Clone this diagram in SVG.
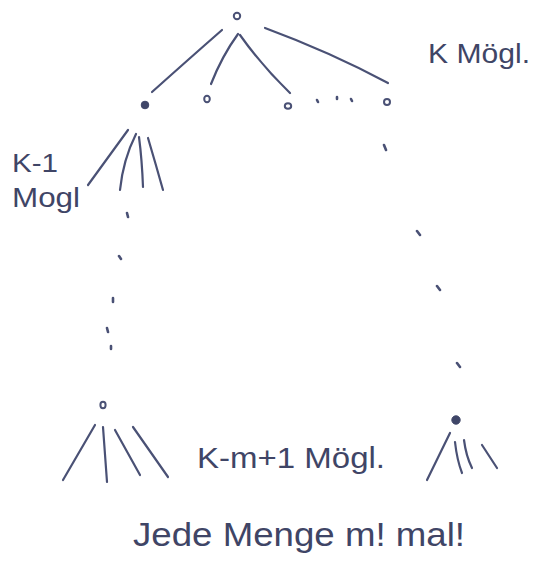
<svg xmlns="http://www.w3.org/2000/svg" width="542" height="585" viewBox="0 0 542 585">
<style>
.pen{fill:none;stroke:#4a5175;stroke-width:2.2;stroke-linecap:round;stroke-linejoin:round}
.dot{fill:none;stroke:#4a5175;stroke-width:2.6;stroke-linecap:round}
.open{fill:#ffffff;stroke:#4a5175;stroke-width:2}
.fill{fill:#3f4668;stroke:#3f4668;stroke-width:1}
.lbl{font-family:"Liberation Sans","DejaVu Sans",sans-serif;fill:#3f4566}
</style>
<rect width="542" height="585" fill="#ffffff"/>
<g id="connectors">
<path class="pen" d="M222,30 Q190,58 152,92"/>
<path class="pen" d="M238,34 Q222,56 211,84"/>
<path class="pen" d="M240,35 Q262,66 290,93"/>
<path class="pen" d="M265,28 Q330,52 388,83"/>
<path class="pen" d="M128,130 L88,185"/>
<path class="pen" d="M136,134 Q123,160 120,190"/>
<path class="pen" d="M139,137 Q142,160 143,187"/>
<path class="pen" d="M148,138 Q156,165 163,190"/>
<path class="pen" d="M95,425 L63,480"/>
<path class="pen" d="M103,427 L107,482"/>
<path class="pen" d="M115,430 L140,475"/>
<path class="pen" d="M133,427 L168,477"/>
<path class="pen" d="M450,433 L427,480"/>
<path class="pen" d="M455,442 Q457,460 462,473"/>
<path class="pen" d="M464,440 Q466,456 472,468"/>
<path class="pen" d="M482,445 L497,468"/>
<path class="dot" d="M317,100 L318,102 M337,97 L337,99 M351,99 L352,101"/>
<path class="dot" d="M127,213 L128,217 M119,256 L121,259 M113,298 L113,302 M107,328 L108,332 M111,346 L111,349"/>
<path class="dot" d="M384,145 L386,150 M417,231 L420,235 M437,286 L440,290 M457,363 L460,367"/>
</g>
<g id="root"><circle class="open" cx="237" cy="16" r="3.2"/></g>
<g id="n1"><circle class="fill" cx="145" cy="105" r="3.8"/></g>
<g id="n2"><ellipse class="open" cx="207" cy="99" rx="2.8" ry="3.3"/></g>
<g id="n3"><ellipse class="open" cx="288" cy="106" rx="3.2" ry="2.8"/></g>
<g id="n4"><circle class="open" cx="387" cy="102" r="3"/></g>
<g id="deepLeft"><ellipse class="open" cx="103" cy="405" rx="2.6" ry="3.2"/></g>
<g id="deepRight"><circle class="fill" cx="456" cy="420" r="4.2"/></g>
<g id="labels">
<text class="lbl" x="428" y="63" font-size="27" textLength="102" lengthAdjust="spacingAndGlyphs">K Mögl.</text>
<text class="lbl" x="12" y="172" font-size="26" textLength="46" lengthAdjust="spacingAndGlyphs">K-1</text>
<text class="lbl" x="12" y="207" font-size="27" textLength="68" lengthAdjust="spacingAndGlyphs">Mogl</text>
<text class="lbl" x="197" y="468" font-size="29" textLength="188" lengthAdjust="spacingAndGlyphs">K-m+1 Mögl.</text>
<text class="lbl" x="133" y="546" font-size="34" textLength="332" lengthAdjust="spacingAndGlyphs">Jede Menge m! mal!</text>
</g>
</svg>
